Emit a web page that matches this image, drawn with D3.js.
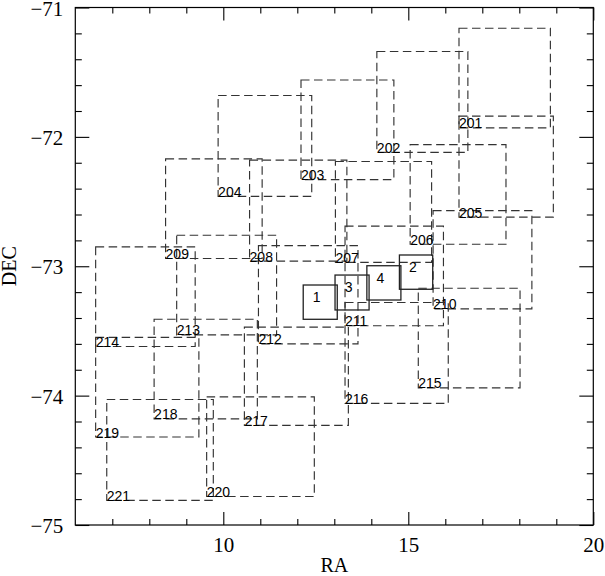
<!DOCTYPE html>
<html><head><meta charset="utf-8">
<script src="https://cdn.jsdelivr.net/npm/d3@7"></script>
<style>
html,body{margin:0;padding:0;background:#fff;}
svg{display:block;}
</style></head>
<body>
<svg id="chart" width="605" height="576"></svg>
<script>
// ---- data (RA in units of the x axis, DEC in degrees) ----
const fieldIds    = ["201","202","203","204","205","206","207","208","209","210","211","212","213","214","215","216","217","218","219","220","221"];
const fieldRaMin  = [16.37,14.15,12.10, 9.86,16.37,15.05,13.03,10.71, 8.44,15.67,13.29,10.95, 8.74, 6.55,15.27,13.29,10.57, 8.13, 6.55, 9.55, 6.85];
const fieldRaMax  = [18.84,16.61,14.61,12.39,18.92,17.64,15.63,13.34,11.05,18.34,15.95,13.64,11.44, 9.24,18.02,16.08,13.38,10.92, 9.34,12.46, 9.73];
const fieldDecTop = [-71.16,-71.34,-71.56,-71.68,-71.84,-72.06,-72.19,-72.18,-72.17,-72.57,-72.69,-72.84,-72.76,-72.85,-73.17,-73.28,-73.47,-73.41,-73.55,-74.01,-74.03];
const fieldDecBot = [-71.93,-72.12,-72.33,-72.46,-72.62,-72.83,-72.97,-72.96,-72.94,-73.33,-73.46,-73.60,-73.53,-73.62,-73.94,-74.06,-74.23,-74.18,-74.32,-74.78,-74.81];

const boxIds    = ["1","2","3","4"];
const boxRaMin  = [12.16,14.76,13.02,13.88];
const boxRaMax  = [13.08,15.66,13.94,14.80];
const boxDecTop = [-73.145,-72.913,-73.068,-72.996];
const boxDecBot = [-73.410,-73.178,-73.338,-73.261];

const xMajorTicks = [10,15,20];
const xMajorLabels = ["10","15","20"];
const xMinorTicks = [7,8,9,11,12,13,14,16,17,18,19];
const yMajorTicks = [-75,-74,-73,-72,-71];
const yMajorLabels = ["\u221275","\u221274","\u221273","\u221272","\u221271"];
const yMinorTicks = [-74.8,-74.6,-74.4,-74.2,-73.8,-73.6,-73.4,-73.2,-72.8,-72.6,-72.4,-72.2,-71.8,-71.6,-71.4,-71.2];

// ---- drawing ----
const svg = d3.select("#chart");
const x = d3.scaleLinear().domain([6,20]).range([75.3,593.3]);
const y = d3.scaleLinear().domain([-75,-71]).range([525,7.5]);
const serif = "'Liberation Serif','Times New Roman',serif";
const sans = "'Liberation Sans',Arial,sans-serif";

const fields = fieldIds.map((id,i)=>({id, r0:fieldRaMin[i], r1:fieldRaMax[i], d0:fieldDecBot[i], d1:fieldDecTop[i]}));
const boxes = boxIds.map((id,i)=>({id, r0:boxRaMin[i], r1:boxRaMax[i], d0:boxDecBot[i], d1:boxDecTop[i]}));

const gF = svg.append("g");
gF.selectAll("rect").data(fields).join("rect")
  .attr("x", d=>x(d.r0)).attr("y", d=>y(d.d1))
  .attr("width", d=>x(d.r1)-x(d.r0)).attr("height", d=>y(d.d0)-y(d.d1))
  .attr("fill","none").attr("stroke","#333").attr("stroke-width",1.15)
  .attr("stroke-dasharray","8.5,4.5");
gF.selectAll("text").data(fields).join("text")
  .attr("x", d=>x(d.r0)).attr("y", d=>y(d.d0)+0.5)
  .attr("font-family", sans).attr("font-size", 14).attr("fill","#000")
  .text(d=>d.id);

const gB = svg.append("g");
gB.selectAll("rect").data(boxes).join("rect")
  .attr("x", d=>x(d.r0)).attr("y", d=>y(d.d1))
  .attr("width", d=>x(d.r1)-x(d.r0)).attr("height", d=>y(d.d0)-y(d.d1))
  .attr("fill","none").attr("stroke","#222").attr("stroke-width",1.3);
gB.selectAll("text").data(boxes).join("text")
  .attr("x", d=>x(d.r0)+13.5).attr("y", d=>y(d.d1)+17)
  .attr("text-anchor","middle")
  .attr("font-family", sans).attr("font-size", 14).attr("fill","#000")
  .text(d=>d.id);

// frame
svg.append("rect").attr("x", x(6)).attr("y", y(-71))
  .attr("width", x(20)-x(6)).attr("height", y(-75)-y(-71))
  .attr("fill","none").attr("stroke","#000").attr("stroke-width",1.2);

// axes with inward ticks
const axB = d3.axisBottom(x).tickValues(xMajorTicks).tickSize(-13).tickFormat((d,i)=>xMajorLabels[i]);
const axBm = d3.axisBottom(x).tickValues(xMinorTicks).tickSize(-6).tickFormat("");
const axT = d3.axisTop(x).tickValues(xMajorTicks).tickSize(-13).tickFormat("");
const axTm = d3.axisTop(x).tickValues(xMinorTicks).tickSize(-6).tickFormat("");
const axL = d3.axisLeft(y).tickValues(yMajorTicks).tickSize(-14).tickFormat((d,i)=>yMajorLabels[i]);
const axLm = d3.axisLeft(y).tickValues(yMinorTicks).tickSize(-6.5).tickFormat("");
const axR = d3.axisRight(y).tickValues(yMajorTicks).tickSize(-14).tickFormat("");
const axRm = d3.axisRight(y).tickValues(yMinorTicks).tickSize(-6.5).tickFormat("");

function style(g){
  g.select(".domain").remove();
  g.selectAll(".tick line").attr("stroke","#000").attr("stroke-width",1.1);
  g.selectAll(".tick text").attr("font-family", serif).attr("font-size", 21).attr("fill","#000");
}
const gb = svg.append("g").attr("transform",`translate(0,${y(-75)})`).call(axB); style(gb);
gb.selectAll(".tick text").attr("dy",null).attr("y",26.5).attr("dominant-baseline","auto");
svg.append("g").attr("transform",`translate(0,${y(-75)})`).call(axBm).call(style);
svg.append("g").attr("transform",`translate(0,${y(-71)})`).call(axT).call(style);
svg.append("g").attr("transform",`translate(0,${y(-71)})`).call(axTm).call(style);
const gl = svg.append("g").attr("transform",`translate(${x(6)},0)`).call(axL); style(gl);
gl.selectAll(".tick text").attr("x",-12).attr("dy","0.36em");
svg.append("g").attr("transform",`translate(${x(6)},0)`).call(axLm).call(style);
svg.append("g").attr("transform",`translate(${x(20)},0)`).call(axR).call(style);
svg.append("g").attr("transform",`translate(${x(20)},0)`).call(axRm).call(style);

// axis titles
svg.append("text").attr("x", (x(6)+x(20))/2).attr("y", 572)
  .attr("text-anchor","middle").attr("font-family", serif).attr("font-size", 20).text("RA");
svg.append("text").attr("transform",`translate(16,${(y(-71)+y(-75))/2}) rotate(-90)`)
  .attr("text-anchor","middle").attr("font-family", serif).attr("font-size", 20).text("DEC");
</script>
</body></html>
